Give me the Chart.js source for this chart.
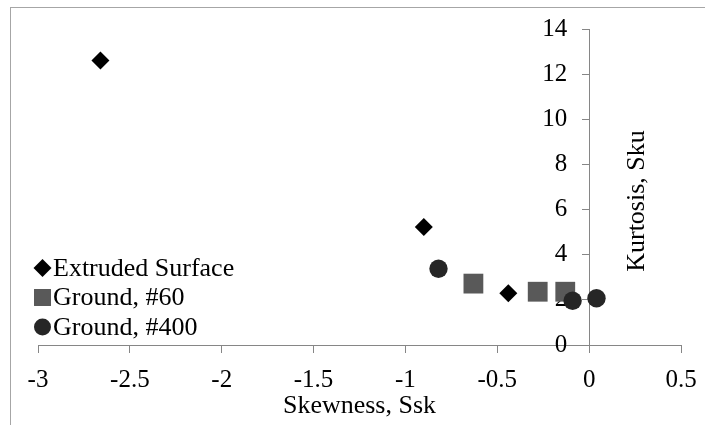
<!DOCTYPE html>
<html>
<head>
<meta charset="utf-8">
<script src="https://cdn.jsdelivr.net/npm/chart.js@4/dist/chart.umd.min.js"></script>
<style>
  body { margin: 0; background: #fff; }
  #wrap { position: relative; width: 705px; height: 425px; overflow: hidden; background: #fff; }
  #frame { position: absolute; left: 10px; top: 7px; width: 800px; height: 500px; border-left: 1px solid #a6a6a6; border-top: 1px solid #a6a6a6; }
  canvas { position: absolute; left: 0; top: 0; }
</style>
</head>
<body>
<div id="wrap"><div id="frame"></div><canvas id="skewChart" width="705" height="425"></canvas></div>
<script>
// valores
var seriesNames = ['Extruded Surface', 'Ground, #60', 'Ground, #400'];
var extrudedSsk = [-2.66, -0.90, -0.44];
var extrudedSku = [12.6, 5.23, 2.29];
var ground60Ssk = [-0.63, -0.28, -0.13];
var ground60Sku = [2.72, 2.36, 2.36];
var ground400Ssk = [-0.82, -0.09, 0.04];
var ground400Sku = [3.38, 1.96, 2.07];
var xTicks = [-3, -2.5, -2, -1.5, -1, -0.5, 0, 0.5];
var yTicks = [0, 2, 4, 6, 8, 10, 12, 14];
var xTitle = 'Skewness, Ssk';
var yTitle = 'Kurtosis, Sku';

var serif = 'Liberation Serif, Times New Roman, serif';
var axisGray = '#868686';

function pontos(xs, ys) {
    return xs.map(function (x, i) { return { x: x, y: ys[i] }; });
}

// o eixo y fica em x = 0; afasta os rótulos dele
var rotulosYPlugin = {
    id: 'rotulosY',
    beforeDraw: function (chart) {
        var itens = chart.scales.y.getLabelItems(chart.chartArea);
        itens.forEach(function (item) {
            if (!item._deslocado) {
                item.options.translation[0] -= 22;
                item._deslocado = true;
            }
        });
    }
};

// legenda flutuante dentro da área do gráfico
var legendaPlugin = {
    id: 'legendaFlutuante',
    afterDraw: function (chart) {
        var ctx = chart.ctx;
        var area = chart.chartArea;
        var sizes = [9, 12, 8.5];
        ctx.save();
        chart.data.datasets.forEach(function (ds, i) {
            var cy = area.bottom - 77 + i * 29.5;
            var cx = area.left + 4.5;
            ctx.fillStyle = ds.backgroundColor;
            Chart.helpers.drawPoint(ctx, { pointStyle: ds.pointStyle, radius: sizes[i], rotation: 0, borderWidth: 0 }, cx, cy);
            ctx.fillStyle = '#000';
            ctx.font = '26px ' + serif;
            ctx.textAlign = 'left';
            ctx.textBaseline = 'middle';
            ctx.fillText(ds.label, area.left + 15, cy + 1);
        });
        ctx.restore();
    }
};

// título do eixo y, lido de baixo para cima
var tituloYPlugin = {
    id: 'tituloY',
    afterDraw: function (chart) {
        var ctx = chart.ctx;
        var area = chart.chartArea;
        ctx.save();
        ctx.translate(area.right - 44, (area.top + area.bottom) / 2 + 14);
        ctx.rotate(-Math.PI / 2);
        ctx.fillStyle = '#000';
        ctx.font = '26px ' + serif;
        ctx.textAlign = 'center';
        ctx.textBaseline = 'middle';
        ctx.fillText(yTitle, 0, 0);
        ctx.restore();
    }
};

var ctx = document.getElementById('skewChart').getContext('2d');
var chart = new Chart(ctx, {
    type: 'scatter',
    data: {
        datasets: [{
            label: seriesNames[0],
            data: pontos(extrudedSsk, extrudedSku),
            pointStyle: 'rectRot',
            pointRadius: 9,
            backgroundColor: '#000000',
            borderColor: '#000000',
            borderWidth: 0,
            order: 0
        }, {
            label: seriesNames[1],
            data: pontos(ground60Ssk, ground60Sku),
            pointStyle: 'rect',
            pointRadius: 14,
            backgroundColor: '#595959',
            borderColor: '#595959',
            borderWidth: 0,
            order: 2
        }, {
            label: seriesNames[2],
            data: pontos(ground400Ssk, ground400Sku),
            pointStyle: 'circle',
            pointRadius: 9.2,
            backgroundColor: '#262626',
            borderColor: '#262626',
            borderWidth: 0,
            order: 1
        }]
    },
    options: {
        responsive: false,
        animation: false,
        devicePixelRatio: 1,
        events: [],
        layout: { padding: { left: 38, right: 24, top: 29, bottom: 0 } },
        plugins: {
            legend: { display: false },
            tooltip: { enabled: false }
        },
        scales: {
            x: {
                type: 'linear',
                position: 'bottom',
                min: -3,
                max: 0.5,
                afterBuildTicks: function (scale) {
                    scale.ticks = xTicks.map(function (v) { return { value: v }; });
                },
                afterFit: function (scale) {
                    scale.height = 80;
                    scale.paddingLeft = 0;
                    scale.paddingRight = 0;
                },
                grid: { drawOnChartArea: false, tickLength: 8, color: axisGray },
                border: { color: axisGray, width: 1 },
                ticks: {
                    font: { family: serif, size: 25 },
                    color: '#000',
                    padding: 12,
                    maxRotation: 0,
                    autoSkip: false,
                    callback: function (v) { return String(v); }
                },
                title: {
                    display: true,
                    text: xTitle,
                    font: { family: serif, size: 26 },
                    color: '#000',
                    padding: { top: 0, bottom: 3 }
                }
            },
            y: {
                type: 'linear',
                position: { x: 0 },
                min: 0,
                max: 14,
                afterBuildTicks: function (scale) {
                    scale.ticks = yTicks.map(function (v) { return { value: v }; });
                },
                grid: { drawOnChartArea: false, tickLength: 7, color: axisGray },
                border: { color: axisGray, width: 1 },
                ticks: {
                    font: { family: serif, size: 25 },
                    color: '#000',
                    padding: 8,
                    callback: function (v) { return String(v); }
                }
            }
        }
    },
    plugins: [rotulosYPlugin, legendaPlugin, tituloYPlugin]
});
</script>
</body>
</html>
